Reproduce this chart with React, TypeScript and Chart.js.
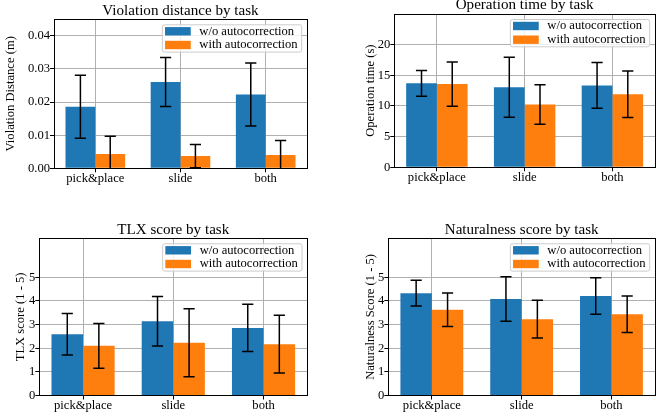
import React, { useEffect, useRef } from 'react';
import { Chart, registerables } from 'chart.js';

Chart.register(...registerables);

// ---------- data ----------
const categories = ['pick&place', 'slide', 'both'];
const seriesNames = ['w/o autocorrection', 'with autocorrection'];

const violationWithout = [0.0186, 0.0261, 0.0223];
const violationWithoutErr = [0.0095, 0.0074, 0.0095];
const violationWith = [0.0043, 0.0037, 0.004];
const violationWithErr = [0.0054, 0.0035, 0.0044];
const violationTicks = [0, 0.01, 0.02, 0.03, 0.04];

const timeWithout = [13.7, 13.05, 13.35];
const timeWithoutErr = [2.1, 4.88, 3.74];
const timeWith = [13.57, 10.25, 11.9];
const timeWithErr = [3.6, 3.22, 3.79];
const timeTicks = [0, 5, 10, 15, 20];

const tlxWithout = [2.59, 3.14, 2.86];
const tlxWithoutErr = [0.88, 1.05, 1.0];
const tlxWith = [2.1, 2.23, 2.17];
const tlxWithErr = [0.95, 1.44, 1.22];
const scoreTicks = [0, 1, 2, 3, 4, 5];

const natWithout = [4.33, 4.08, 4.21];
const natWithoutErr = [0.545, 0.94, 0.775];
const natWith = [3.63, 3.23, 3.44];
const natWithErr = [0.71, 0.8, 0.77];

// ---------- style / layout ----------
const W = 665;
const H = 416;
const FONT = "'Liberation Serif', 'Times New Roman', serif";
const FS = 12.6;
const TITLE_FS = 15.1;
const BLUE = '#1f77b4';
const ORANGE = '#ff7f0e';
const CAP = 5.6;

type Box = { l: number; t: number; r: number; b: number; yTitleMid: number };

const PANELS = [
  {
    title: 'Violation distance by task',
    yTitle: 'Violation Distance (m)',
    a: violationWithout, aErr: violationWithoutErr,
    b: violationWith, bErr: violationWithErr,
    ticks: violationTicks, yMax: 0.045, decimals: 2,
    box: { l: 54, t: 19.3, r: 307, b: 168.3, yTitleMid: 10.3 } as Box,
  },
  {
    title: 'Operation time by task',
    yTitle: 'Operation time (s)',
    a: timeWithout, aErr: timeWithoutErr,
    b: timeWith, bErr: timeWithErr,
    ticks: timeTicks, yMax: 25, decimals: 0,
    box: { l: 394.3, t: 14, r: 655, b: 167.3, yTitleMid: 370.4 } as Box,
  },
  {
    title: 'TLX score by task',
    yTitle: 'TLX score (1 - 5)',
    a: tlxWithout, aErr: tlxWithoutErr,
    b: tlxWith, bErr: tlxWithErr,
    ticks: scoreTicks, yMax: 6.65, decimals: 0,
    box: { l: 39.3, t: 238.3, r: 307.3, b: 395.5, yTitleMid: 20.7 } as Box,
  },
  {
    title: 'Naturalness score by task',
    yTitle: 'Naturalness Score (1 - 5)',
    a: natWithout, aErr: natWithoutErr,
    b: natWith, bErr: natWithErr,
    ticks: scoreTicks, yMax: 6.65, decimals: 0,
    box: { l: 388.3, t: 238.3, r: 655, b: 395.5, yTitleMid: 370.4 } as Box,
  },
];

const align = (p: number) => Math.round(p - 0.5) + 0.5;

const errorBarPlugin = {
  id: 'errorBars',
  afterDatasetsDraw(chart: any) {
    const { ctx, chartArea: a } = chart;
    const ys = chart.scales.y;
    ctx.save();
    ctx.beginPath();
    ctx.rect(a.left, a.top, a.right - a.left, a.bottom - a.top);
    ctx.clip();
    ctx.strokeStyle = '#000';
    ctx.lineWidth = 1.5;
    chart.data.datasets.forEach((ds: any, di: number) => {
      const meta = chart.getDatasetMeta(di);
      meta.data.forEach((bar: any, j: number) => {
        const v = ds.data[j].y;
        const e = ds.errors[j];
        const yt = ys.getPixelForValue(v + e);
        const yb = ys.getPixelForValue(v - e);
        const x = bar.x;
        ctx.beginPath();
        ctx.moveTo(x, yt);
        ctx.lineTo(x, yb);
        ctx.moveTo(x - CAP, yt);
        ctx.lineTo(x + CAP, yt);
        ctx.moveTo(x - CAP, yb);
        ctx.lineTo(x + CAP, yb);
        ctx.stroke();
      });
    });
    ctx.restore();
  },
};

const frameLegendPlugin = {
  id: 'frameLegend',
  afterDraw(chart: any) {
    const { ctx, chartArea: a } = chart;
    ctx.save();
    // axes frame
    ctx.strokeStyle = '#000';
    ctx.lineWidth = 1;
    const l = align(a.left), r = align(a.right), t = align(a.top), b = align(a.bottom);
    ctx.strokeRect(l, t, r - l, b - t);

    // legend
    ctx.font = `${FS}px ${FONT}`;
    const names = chart.data.datasets.map((d: any) => d.label);
    const colors = chart.data.datasets.map((d: any) => d.backgroundColor);
    const tw = Math.max(...names.map((n: string) => ctx.measureText(n).width));
    const w = 2.7 + 25.7 + 8.6 + tw + 4.1;
    const h = 27.3;
    const bx = a.right - 5.3 - w;
    const by = a.top + 5.5;
    ctx.beginPath();
    (ctx as any).roundRect(bx, by, w, h, 2);
    ctx.fillStyle = 'rgba(255,255,255,0.8)';
    ctx.fill();
    ctx.strokeStyle = '#cccccc';
    ctx.lineWidth = 1;
    ctx.stroke();
    const rows = [by + 6.5, by + 20.2];
    names.forEach((n: string, i: number) => {
      const cy = rows[i];
      ctx.fillStyle = colors[i];
      ctx.fillRect(bx + 2.7, cy - 4.2, 25.7, 8.4);
      ctx.fillStyle = '#000';
      ctx.textBaseline = 'middle';
      ctx.textAlign = 'left';
      ctx.fillText(n, bx + 2.7 + 25.7 + 8.6, cy);
    });
    ctx.restore();
  },
};

function makeChart(canvas: HTMLCanvasElement, p: (typeof PANELS)[number]) {
  const box = p.box;
  const padLeft = box.yTitleMid - FS / 2;
  const yAxisWidth = box.l - padLeft;
  const titleBottomPad = 1;
  const titleH = TITLE_FS + titleBottomPad;
  const xAxisHeight = 18;
  const font = { family: FONT, size: FS, lineHeight: 1 };

  return new Chart(canvas, {
    type: 'bar',
    data: {
      datasets: [
        {
          label: seriesNames[0],
          data: p.a.map((y, i) => ({ x: i, y })),
          backgroundColor: BLUE,
          borderWidth: 0,
          categoryPercentage: 0.7,
          barPercentage: 1,
          errors: p.aErr,
        } as any,
        {
          label: seriesNames[1],
          data: p.b.map((y, i) => ({ x: i, y })),
          backgroundColor: ORANGE,
          borderWidth: 0,
          categoryPercentage: 0.7,
          barPercentage: 1,
          errors: p.bErr,
        } as any,
      ],
    },
    options: {
      responsive: false,
      animation: false,
      devicePixelRatio: 1,
      events: [],
      layout: {
        padding: {
          left: padLeft,
          right: W - box.r,
          top: box.t - titleH,
          bottom: H - box.b - xAxisHeight,
        },
      },
      plugins: {
        legend: { display: false },
        tooltip: { enabled: false },
        title: {
          display: true,
          text: p.title,
          fullSize: false,
          align: 'center',
          color: '#000',
          font: { family: FONT, size: TITLE_FS, lineHeight: 1, weight: 'normal' },
          padding: { top: 0, bottom: titleBottomPad },
        },
      },
      scales: {
        x: {
          type: 'linear',
          min: -0.485,
          max: 2.485,
          offset: false,
          z: 1,
          afterBuildTicks: (axis: any) => {
            axis.ticks = categories.map((_, i) => ({ value: i }));
          },
          afterFit: (axis: any) => {
            axis.height = xAxisHeight;
          },
          ticks: {
            autoSkip: false,
            maxRotation: 0,
            color: '#000',
            font,
            padding: 0,
            callback: (v: any) => categories[v as number] ?? '',
          },
          grid: {
            color: '#b0b0b0',
            lineWidth: 1,
            drawTicks: true,
            tickLength: 4,
            tickColor: '#000',
            offset: false,
          },
          border: { display: false },
        },
        y: {
          type: 'linear',
          min: 0,
          max: p.yMax,
          z: 1,
          afterBuildTicks: (axis: any) => {
            axis.ticks = p.ticks.map((v) => ({ value: v }));
          },
          afterFit: (axis: any) => {
            axis.width = yAxisWidth;
          },
          ticks: {
            color: '#000',
            font,
            padding: 0,
            callback: (v: any) => Number(v).toFixed(p.decimals),
          },
          grid: {
            color: '#b0b0b0',
            lineWidth: 1,
            drawTicks: true,
            tickLength: 4,
            tickColor: '#000',
          },
          border: { display: false },
          title: {
            display: true,
            text: p.yTitle,
            color: '#000',
            font,
            padding: 0,
          },
        },
      },
    } as any,
    plugins: [errorBarPlugin, frameLegendPlugin],
  });
}

function Panel({ index }: { index: number }) {
  const ref = useRef<HTMLCanvasElement | null>(null);
  useEffect(() => {
    if (!ref.current) return;
    const chart = makeChart(ref.current, PANELS[index]);
    return () => chart.destroy();
  }, [index]);
  return (
    <canvas
      ref={ref}
      width={W}
      height={H}
      style={{ position: 'absolute', left: 0, top: 0, width: W, height: H }}
    />
  );
}

export default function App() {
  return (
    <div style={{ position: 'absolute', left: 0, top: 0, width: W, height: H, background: '#fff' }}>
      {PANELS.map((_, i) => (
        <Panel key={i} index={i} />
      ))}
    </div>
  );
}
